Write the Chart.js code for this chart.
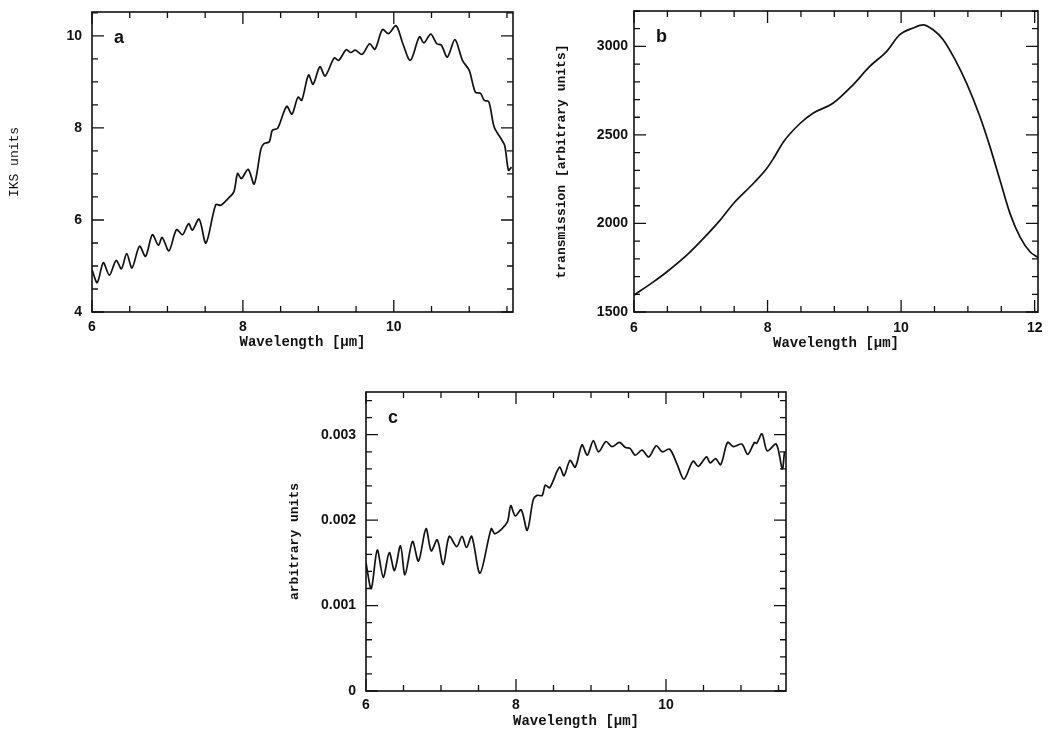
<!DOCTYPE html>
<html>
<head>
<meta charset="utf-8">
<title>IKS spectrum, filter transmission and ratio</title>
<script src="https://cdn.jsdelivr.net/npm/chart.js@4.4.0/dist/chart.umd.min.js"></script>
<style>
  body { margin: 0; background: #fff; }
  #page { position: relative; width: 1060px; height: 731px; overflow: hidden; background: #fff; }
  #page canvas { position: absolute; }
</style>
</head>
<body>
<div id="page">
  <canvas id="panel-a" width="540" height="360" style="left:0;top:0"></canvas>
  <canvas id="panel-b" width="540" height="360" style="left:520px;top:0"></canvas>
  <canvas id="panel-c" width="540" height="361" style="left:270px;top:370px"></canvas>
</div>
<script>
// ---- panel a: IKS units vs wavelength
const aWave = [6.00, 6.07, 6.15, 6.23, 6.32, 6.39, 6.46, 6.53, 6.63, 6.71, 6.80, 6.88, 6.93, 7.02, 7.12, 7.20, 7.28, 7.33, 7.42, 7.51,
  7.64, 7.71, 7.80, 7.88, 7.93, 7.98, 8.07, 8.15, 8.24, 8.28, 8.35, 8.39, 8.46, 8.58, 8.65, 8.73, 8.78, 8.87, 8.93, 9.02,
  9.09, 9.21, 9.27, 9.37, 9.43, 9.49, 9.58, 9.68, 9.75, 9.85, 9.93, 10.03, 10.12, 10.22, 10.34, 10.40, 10.49, 10.57, 10.63, 10.71,
  10.81, 10.91, 11.00, 11.08, 11.15, 11.20, 11.26, 11.33, 11.42, 11.47, 11.52, 11.56];
const aIks = [4.92, 4.64, 5.07, 4.80, 5.12, 4.94, 5.27, 4.96, 5.43, 5.21, 5.68, 5.45, 5.62, 5.33, 5.79, 5.68, 5.92, 5.78, 6.02, 5.50,
  6.33, 6.32, 6.46, 6.61, 7.01, 6.90, 7.10, 6.78, 7.55, 7.66, 7.70, 7.95, 7.99, 8.47, 8.30, 8.67, 8.60, 9.15, 8.95, 9.33,
  9.13, 9.52, 9.47, 9.70, 9.64, 9.69, 9.60, 9.83, 9.71, 10.14, 10.05, 10.22, 9.83, 9.47, 9.98, 9.85, 10.04, 9.83, 9.80, 9.54,
  9.92, 9.47, 9.25, 8.78, 8.75, 8.60, 8.57, 8.02, 7.77, 7.62, 7.08, 7.15];
const aXTicks = [6, 8, 10];
const aYTicks = [4, 6, 8, 10];

// ---- panel b: transmission
const bWave = [6.00, 6.29, 6.49, 6.79, 6.99, 7.29, 7.49, 7.79, 7.99, 8.09, 8.24, 8.49, 8.68, 8.98, 9.28, 9.53,
  9.78, 9.98, 10.18, 10.33, 10.48, 10.63, 10.81, 10.98, 11.18, 11.33, 11.48, 11.63, 11.78, 11.93, 12.05];
const bTrans = [1595, 1670, 1726, 1821, 1896, 2019, 2113, 2227, 2312, 2368, 2462, 2566, 2623, 2679, 2783, 2887,
  2971, 3066, 3104, 3122, 3094, 3038, 2924, 2793, 2604, 2434, 2245, 2057, 1924, 1840, 1808];
const bXTicks = [6, 8, 10, 12];
const bYTicks = [1500, 2000, 2500, 3000];

// ---- panel c: arbitrary units
const cWave = [6.00, 6.07, 6.15, 6.23, 6.31, 6.38, 6.46, 6.52, 6.62, 6.70, 6.80, 6.87, 6.95, 7.03, 7.11, 7.21, 7.28, 7.34, 7.41, 7.52,
  7.67, 7.72, 7.88, 7.93, 7.99, 8.07, 8.15, 8.23, 8.28, 8.35, 8.39, 8.45, 8.58, 8.64, 8.72, 8.79, 8.88, 8.95, 9.03, 9.10,
  9.20, 9.28, 9.38, 9.46, 9.52, 9.59, 9.68, 9.77, 9.87, 9.95, 10.05, 10.15, 10.24, 10.36, 10.43, 10.54, 10.59, 10.66, 10.73, 10.82,
  10.90, 11.01, 11.09, 11.18, 11.21, 11.28, 11.35, 11.47, 11.55, 11.58];
const cUnits = [0.00150, 0.00120, 0.00165, 0.00133, 0.00162, 0.00141, 0.00170, 0.00136, 0.00175, 0.00152,
  0.00190, 0.00164, 0.00177, 0.00148, 0.00181, 0.00169, 0.00181, 0.00168, 0.00181, 0.00138,
  0.00190, 0.00184, 0.00197, 0.00217, 0.00205, 0.00212, 0.00188, 0.00224, 0.00229, 0.00229,
  0.00241, 0.00238, 0.00262, 0.00252, 0.00270, 0.00262, 0.00288, 0.00276, 0.00293, 0.00280,
  0.00292, 0.00286, 0.00291, 0.00285, 0.00284, 0.00276, 0.00282, 0.00274, 0.00287, 0.00280,
  0.00283, 0.00265, 0.00248, 0.00269, 0.00263, 0.00274, 0.00267, 0.00272, 0.00265, 0.00291,
  0.00286, 0.00289, 0.00277, 0.00291, 0.00290, 0.00301, 0.00281, 0.00289, 0.00260, 0.00280];
const cXTicks = [6, 8, 10];
const cYTicks = [0, 0.001, 0.002, 0.003];
const cYLabels = ['0', '0.001', '0.002', '0.003'];

Chart.defaults.color = '#111';
Chart.defaults.font.family = '"Liberation Sans", Arial, sans-serif';

// frame + inward major/minor ticks on all four sides, plus the panel letter
const frameTicks = {
  id: 'frameTicks',
  afterDraw(chart, args, opts) {
    const ctx = chart.ctx;
    const { left, right, top, bottom } = chart.chartArea;
    const sx = chart.scales.x, sy = chart.scales.y;
    ctx.save();
    ctx.strokeStyle = '#111';
    ctx.lineWidth = 1.6;
    ctx.strokeRect(left, top, right - left, bottom - top);
    ctx.lineWidth = 1.3;
    const isMajor = (list, v, step) => list.some(m => Math.abs(m - v) < step / 100);
    ctx.beginPath();
    for (let v = Math.ceil(sx.min / opts.xStep) * opts.xStep; v <= sx.max + 1e-9; v += opts.xStep) {
      const p = sx.getPixelForValue(v);
      const len = isMajor(opts.xMajor, v, opts.xStep) ? 12 : 6;
      ctx.moveTo(p, bottom); ctx.lineTo(p, bottom - len);
      ctx.moveTo(p, top); ctx.lineTo(p, top + len);
    }
    for (let i = Math.ceil(sy.min / opts.yStep - 1e-6); i * opts.yStep <= sy.max + opts.yStep / 1000; i++) {
      const v = i * opts.yStep;
      const p = sy.getPixelForValue(v);
      const len = isMajor(opts.yMajor, v, opts.yStep) ? 12 : 6;
      ctx.moveTo(left, p); ctx.lineTo(left + len, p);
      ctx.moveTo(right, p); ctx.lineTo(right - len, p);
    }
    ctx.stroke();
    ctx.fillStyle = '#111';
    ctx.font = 'bold 18px "Liberation Sans", Arial, sans-serif';
    ctx.textBaseline = 'alphabetic';
    ctx.fillText(opts.letter, left + 22, top + 31);
    ctx.restore();
  }
};

function fixedTicks(list) {
  return scale => { scale.ticks = list.map(v => ({ value: v })); };
}

function makePanel(id, xs, ys, cfg) {
  const points = xs.map((x, i) => ({ x: x, y: ys[i] }));
  return new Chart(document.getElementById(id), {
    type: 'scatter',
    data: {
      datasets: [{
        data: points,
        showLine: true,
        borderColor: '#111',
        borderWidth: 1.7,
        pointRadius: 0,
        tension: cfg.tension,
        cubicInterpolationMode: cfg.monotone ? 'monotone' : 'default'
      }]
    },
    options: {
      responsive: false,
      animation: false,
      devicePixelRatio: 1,
      events: [],
      layout: { padding: cfg.padding },
      plugins: {
        legend: { display: false },
        tooltip: { enabled: false },
        frameTicks: cfg.frame
      },
      scales: {
        x: {
          type: 'linear',
          min: cfg.xMin, max: cfg.xMax,
          afterBuildTicks: fixedTicks(cfg.xTicks),
          afterFit: s => { s.height = cfg.xAxisHeight; s.paddingLeft = 0; s.paddingRight = 0; },
          grid: { display: false, drawTicks: false },
          border: { display: false },
          ticks: { padding: cfg.xTickPad, font: { size: 14, weight: 'bold' }, maxRotation: 0 },
          title: {
            display: true, text: 'Wavelength [\u03bcm]',
            font: { family: '"Liberation Mono", "DejaVu Sans Mono", monospace', size: 14, weight: 'bold' },
            padding: { top: 0, bottom: cfg.xTitlePad }
          }
        },
        y: {
          type: 'linear',
          min: cfg.yMin, max: cfg.yMax,
          afterBuildTicks: fixedTicks(cfg.yTicks),
          afterFit: s => { s.width = cfg.yAxisWidth; s.paddingTop = 0; s.paddingBottom = 0; },
          grid: { display: false, drawTicks: false },
          border: { display: false },
          ticks: {
            padding: cfg.yTickPad, font: { size: 14, weight: 'bold' },
            callback: cfg.yLabel || (v => String(v))
          },
          title: {
            display: true, text: cfg.yTitle,
            font: { family: '"Liberation Mono", "DejaVu Sans Mono", monospace', size: 13, weight: cfg.yTitleWeight },
            padding: { top: cfg.yTitlePad, bottom: 0 }
          }
        }
      }
    },
    plugins: [frameTicks]
  });
}

makePanel('panel-a', aWave, aIks, {
  tension: 0.3,
  padding: { top: 12, right: 27, bottom: 0, left: 0 },
  xMin: 6, xMax: 11.58, yMin: 4, yMax: 10.52,
  xTicks: aXTicks, yTicks: aYTicks,
  xAxisHeight: 48, yAxisWidth: 92,
  xTickPad: 7, yTickPad: 10, xTitlePad: 9, yTitlePad: 7,
  yTitle: 'IKS units', yTitleWeight: 'normal',
  frame: { xMajor: aXTicks, yMajor: aYTicks, xStep: 0.5, yStep: 0.5, letter: 'a' }
});

makePanel('panel-b', bWave, bTrans, {
  tension: 0.4, monotone: true,
  padding: { top: 11, right: 22, bottom: 0, left: 0 },
  xMin: 6, xMax: 12.05, yMin: 1500, yMax: 3200,
  xTicks: bXTicks, yTicks: bYTicks,
  xAxisHeight: 48, yAxisWidth: 114,
  xTickPad: 8, yTickPad: 6, xTitlePad: 8, yTitlePad: 34,
  yTitle: 'transmission [arbitrary units]', yTitleWeight: 'bold',
  frame: { xMajor: bXTicks, yMajor: bYTicks, xStep: 0.5, yStep: 100, letter: 'b' }
});

makePanel('panel-c', cWave, cUnits, {
  tension: 0.3,
  padding: { top: 22, right: 24, bottom: 0, left: 0 },
  xMin: 6, xMax: 11.6, yMin: 0, yMax: 0.0035,
  xTicks: cXTicks, yTicks: cYTicks,
  xAxisHeight: 40, yAxisWidth: 96,
  xTickPad: 6, yTickPad: 10, xTitlePad: 1, yTitlePad: 17,
  yTitle: 'arbitrary units', yTitleWeight: 'bold',
  yLabel: (v, i) => cYLabels[i],
  frame: { xMajor: cXTicks, yMajor: cYTicks, xStep: 0.5, yStep: 0.0002, letter: 'c' }
});
</script>
</body>
</html>
